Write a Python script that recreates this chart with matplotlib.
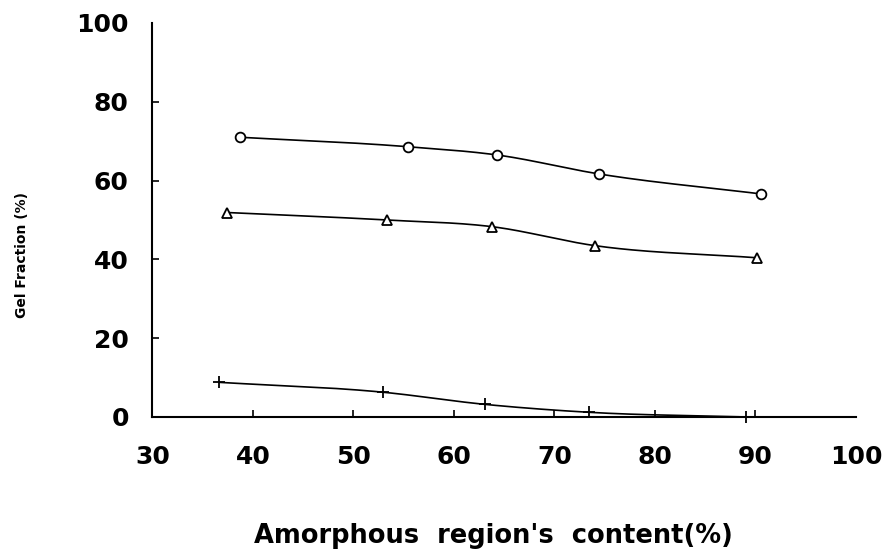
import numpy as np
import matplotlib.pyplot as plt

# values
circle_x = [38.7, 55.4, 64.3, 74.4, 90.6]
circle_y = [71.0, 68.6, 66.5, 61.7, 56.6]

tri_x = [37.4, 53.3, 63.8, 74.0, 90.2]
tri_y = [51.9, 50.0, 48.3, 43.5, 40.4]

plus_x = [36.6, 52.9, 63.1, 73.4, 89.1]
plus_y = [8.8, 6.3, 3.2, 1.2, 0.0]

x_ticks = [30, 40, 50, 60, 70, 80, 90, 100]
y_ticks = [0, 20, 40, 60, 80, 100]


def smooth(x, y, n=40):
    # cubic Hermite curve through the points, for drawing only
    x = np.asarray(x, float)
    y = np.asarray(y, float)
    m = np.gradient(y, x)
    xs, ys = [], []
    for i in range(len(x) - 1):
        h = x[i + 1] - x[i]
        t = np.linspace(0, 1, n)
        h00 = 2 * t**3 - 3 * t**2 + 1
        h10 = t**3 - 2 * t**2 + t
        h01 = -2 * t**3 + 3 * t**2
        h11 = t**3 - t**2
        xs.append(x[i] + t * h)
        ys.append(h00 * y[i] + h10 * h * m[i] + h01 * y[i + 1] + h11 * h * m[i + 1])
    return np.concatenate(xs), np.concatenate(ys)


plt.rcParams['font.family'] = 'DejaVu Sans'
plt.rcParams['font.weight'] = 'bold'

fig = plt.figure(figsize=(8.86, 5.54), dpi=100)
ax = fig.add_axes([0.1721, 0.2473, 0.794, 0.7112])

for xs, ys, mk, ms in [(circle_x, circle_y, 'o', 7),
                       (tri_x, tri_y, '^', 6.5),
                       (plus_x, plus_y, '+', 8)]:
    cx, cy = smooth(xs, ys)
    ax.plot(cx, cy, color='black', lw=1.2, zorder=2)
    ax.plot(xs, ys, linestyle='none', marker=mk, markersize=ms,
            markerfacecolor='white', markeredgecolor='black',
            markeredgewidth=1.3, zorder=3, clip_on=False)

ax.set_xlim(30, 100)
ax.set_ylim(0, 100)
ax.set_xticks(x_ticks)
ax.set_yticks(y_ticks)
ax.set_xticklabels([str(v) for v in x_ticks])
ax.set_yticklabels([str(v) for v in y_ticks])
# tick marks only at the inner positions, labels on the majors
ax.xaxis.remove_overlapping_locs = False
ax.yaxis.remove_overlapping_locs = False
ax.set_xticks(x_ticks[1:-1], minor=True)
ax.set_yticks(y_ticks[1:-1], minor=True)

ax.spines['top'].set_visible(False)
ax.spines['right'].set_visible(False)
ax.spines['left'].set_linewidth(1.5)
ax.spines['bottom'].set_linewidth(1.5)

ax.tick_params(axis='both', which='major', direction='in', length=0,
               labelsize=18)
ax.tick_params(axis='both', which='minor', direction='in', length=5,
               width=1.2)
ax.tick_params(axis='x', which='major', pad=20)
ax.tick_params(axis='y', which='major', pad=17)
for lab in ax.get_xticklabels() + ax.get_yticklabels():
    lab.set_fontweight('bold')

fig.text(22 / 886, 1 - 255 / 554, 'Gel Fraction (%)', rotation=90,
         ha='center', va='center', fontsize=10, fontweight='bold')
fig.text(493 / 886, 1 - 543 / 554, "Amorphous  region's  content(%)",
         ha='center', va='baseline', fontsize=18.5, fontweight='bold')

fig.savefig('out.png', dpi=100)
